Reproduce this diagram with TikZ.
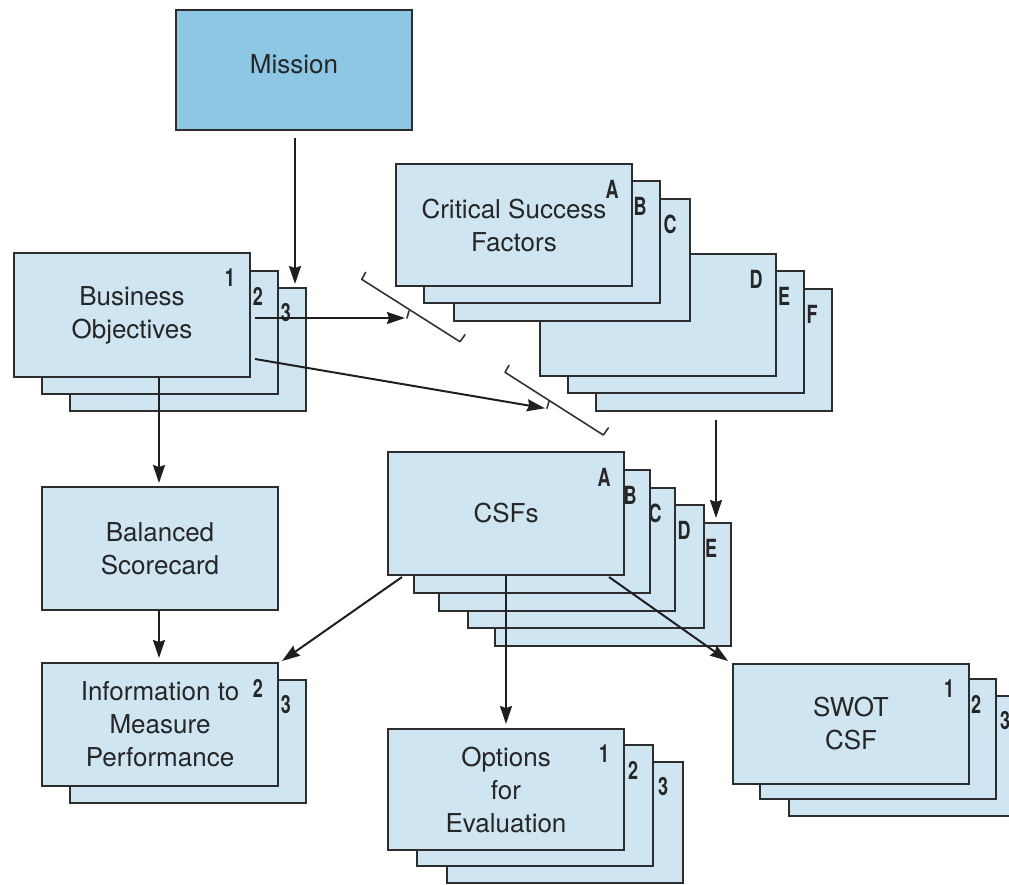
\documentclass[tikz,border=0pt]{standalone}
\usepackage{fontspec}
\usepackage{graphicx}
\setmainfont{TeX Gyre Heros}
\usetikzlibrary{arrows.meta,calc}

\definecolor{cardfill}{RGB}{207,229,241}
\definecolor{missionfill}{RGB}{142,199,227}
\definecolor{edge}{RGB}{45,45,45}
\definecolor{ink}{RGB}{38,38,38}

\newcommand\cnd[1]{\scalebox{0.72}[1]{#1}}

\tikzset{
  card/.style={draw=edge, line width=2pt, fill=cardfill, anchor=north west,
    inner sep=0pt, minimum width=236pt, minimum height=123pt, align=center,
    text=ink, font=\fontsize{26}{33}\selectfont},
  tag/.style={text=ink, inner sep=0pt, font=\fontsize{25}{25}\selectfont\bfseries},
  arr/.style={draw=black!88, line width=2pt,
    -{Stealth[length=18pt,width=12pt,inset=2pt]}},
  brk/.style={draw=black!80, line width=1.6pt, line cap=round, line join=round},
}

% card label in the upper right corner of a card
\newcommand\cardtag[2]{\node[tag] (#1-tag) at ($(#1.north east)+(-21,26)$) {\cnd{#2}};}

\begin{document}
\begin{tikzpicture}[x=1pt,y=-1pt]
\useasboundingbox (0,0) rectangle (1009,884);
\clip (0,0) rectangle (1009,884);

% Mission
\node[card, fill=missionfill, minimum height=120pt, text depth=12pt] (mission) at (175,9) {Mission};

% Business objectives stack
\node[card] (bo3) at (69,287) {};  \cardtag{bo3}{3}
\node[card] (bo2) at (41,270) {};  \cardtag{bo2}{2}
\node[card, minimum height=124pt] (bo1) at (13,252) {Business\\Objectives}; \cardtag{bo1}{1}

% Critical success factors, two stacks
\node[card, minimum height=122pt] (cf) at (595,288) {}; \cardtag{cf}{F}
\node[card, minimum height=122pt] (ce) at (567,270) {}; \cardtag{ce}{E}
\node[card, minimum height=122pt] (cd) at (539,253) {}; \cardtag{cd}{D}
\node[card, minimum height=122pt] (cc) at (453,198) {}; \cardtag{cc}{C}
\node[card, minimum height=122pt] (cb) at (423,180) {}; \cardtag{cb}{B}
\node[card, minimum height=122pt] (ca) at (395,163) {Critical Success\\Factors}; \cardtag{ca}{A}

% CSFs stack
\node[card] (cse) at (494,522) {}; \cardtag{cse}{E}
\node[card] (csd) at (467,504) {}; \cardtag{csd}{D}
\node[card] (csc) at (438,487) {}; \cardtag{csc}{C}
\node[card] (csb) at (413,469) {}; \cardtag{csb}{B}
\node[card] (csa) at (387,451) {CSFs}; \cardtag{csa}{A}

% Balanced scorecard
\node[card] (bsc) at (41,486) {Balanced\\Scorecard};

% Information to measure performance
\node[card] (info3) at (69,679) {}; \cardtag{info3}{3}
\node[card] (info2) at (41,662) {Information to\\Measure\\Performance}; \cardtag{info2}{2}

% Options for evaluation
\node[card, minimum height=121pt] (opt3) at (446,761) {}; \cardtag{opt3}{3}
\node[card, minimum height=121pt] (opt2) at (416,744) {}; \cardtag{opt2}{2}
\node[card, minimum height=121pt] (opt1) at (387,728) {Options\\for\\Evaluation}; \cardtag{opt1}{1}

% SWOT
\node[card, minimum height=120pt] (sw3) at (788,695) {}; \cardtag{sw3}{3}
\node[card, minimum height=120pt] (sw2) at (759,678) {}; \cardtag{sw2}{2}
\node[card, minimum height=120pt] (sw1) at (732,663) {SWOT\\CSF}; \cardtag{sw1}{1}

% bracket marks with arrow tips
\coordinate (k1s) at (361.7,279.3);
\coordinate (k1e) at (460,341.7);
\coordinate (t1) at (405,318);
\coordinate (k2s) at (505,372.3);
\coordinate (k2e) at (603.3,435);
\coordinate (t2) at (545,408.3);

\draw[brk] ($(k1s)+(4,-7)$) -- (k1s) -- (k1e) -- ($(k1e)+(5,-7)$);
\draw[brk] ($(t1)+(2,0)$) -- ($(t1)+(4,-7)$);
\draw[brk] ($(k2s)+(4,-7)$) -- (k2s) -- (k2e) -- ($(k2e)+(5,-7)$);
\draw[brk] ($(t2)+(2,0)$) -- ($(t2)+(4,-7)$);

% connectors
\draw[arr] ($(mission.south)+(1,7)$) -- ($(mission.south |- bo3.north)+(1,-3)$);
\draw[arr] ($(bo1.north east)+(4,66)$) -- (t1);
\draw[arr] ($(bo1.north east)+(4,107)$) -- (t2);
\draw[arr] ($(bsc.north |- bo1.south)+(-1,0)$) -- ($(bsc.north)+(-1,-3)$);
\draw[arr] ($(bsc.south)+(-1,0)$) -- ($(info2.north)+(-1,-4)$);
\draw[arr] ($(cf.south west)+(121,8)$) -- ($(cse.north west)+(222,-4)$);
\draw[arr] ($(csa.south west)+(15,1)$) -- ($(info2.north east)+(3,-1)$);
\draw[arr] (csa.south) -- ($(opt1.north)+(0,-4)$);
\draw[arr] ($(csa.south east)+(-16,1)$) -- ($(sw1.north west)+(-4,-2)$);
\end{tikzpicture}
\end{document}
